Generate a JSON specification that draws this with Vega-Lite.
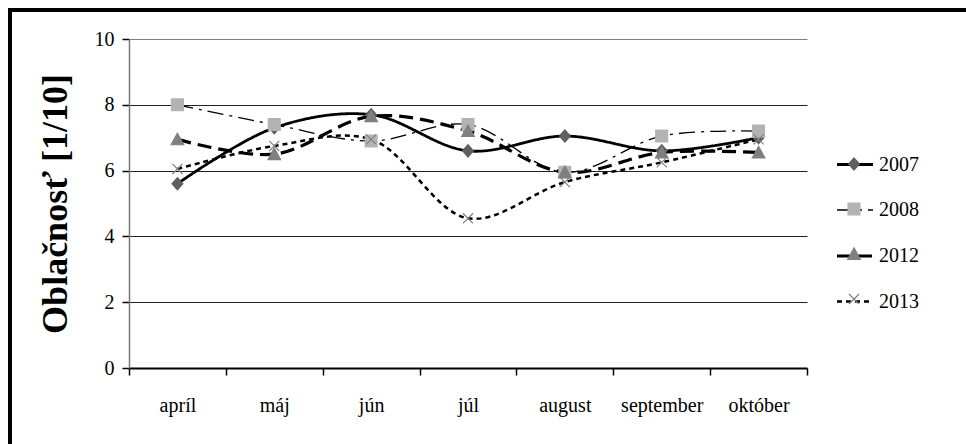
{
  "$schema": "https://vega.github.io/schema/vega-lite/v6.json",
  "width": 970,
  "height": 440,
  "autosize": {"type": "none"},
  "padding": {"left": 10, "top": 10, "right": -14, "bottom": -6},
  "background": "white",
  "config": {
    "view": {"stroke": "black", "strokeWidth": 4, "fill": "white"},
    "legend": {"symbolSize": 1296, "labelFont": "Liberation Serif", "labelFontSize": 20, "labelColor": "black", "rowPadding": 16, "labelOffset": 4, "padding": 0, "offset": 0, "symbolStrokeWidth": 1.2}
  },
  "data": {
    "values": [
      {"month": "apríl", "year": "2007", "value": 5.6},
      {"month": "máj", "year": "2007", "value": 7.3},
      {"month": "jún", "year": "2007", "value": 7.7},
      {"month": "júl", "year": "2007", "value": 6.6},
      {"month": "august", "year": "2007", "value": 7.05},
      {"month": "september", "year": "2007", "value": 6.6},
      {"month": "október", "year": "2007", "value": 7.0},
      {"month": "apríl", "year": "2008", "value": 8.0},
      {"month": "máj", "year": "2008", "value": 7.4},
      {"month": "jún", "year": "2008", "value": 6.9},
      {"month": "júl", "year": "2008", "value": 7.4},
      {"month": "august", "year": "2008", "value": 5.95},
      {"month": "september", "year": "2008", "value": 7.05},
      {"month": "október", "year": "2008", "value": 7.2},
      {"month": "apríl", "year": "2012", "value": 6.95},
      {"month": "máj", "year": "2012", "value": 6.5},
      {"month": "jún", "year": "2012", "value": 7.65},
      {"month": "júl", "year": "2012", "value": 7.2},
      {"month": "august", "year": "2012", "value": 5.95},
      {"month": "september", "year": "2012", "value": 6.55},
      {"month": "október", "year": "2012", "value": 6.55},
      {"month": "apríl", "year": "2013", "value": 6.05},
      {"month": "máj", "year": "2013", "value": 6.75},
      {"month": "jún", "year": "2013", "value": 6.95},
      {"month": "júl", "year": "2013", "value": 4.55},
      {"month": "august", "year": "2013", "value": 5.65},
      {"month": "september", "year": "2013", "value": 6.25},
      {"month": "október", "year": "2013", "value": 6.95}
    ]
  },
  "encoding": {
    "x": {
      "field": "month", "type": "nominal",
      "sort": ["apríl", "máj", "jún", "júl", "august", "september", "október"],
      "scale": {"type": "band", "range": [119, 797], "paddingInner": 0, "paddingOuter": 0},
      "axis": {"orient": "bottom", "offset": -82, "title": null, "labelAngle": 0, "grid": false,
        "domainColor": "black", "domainWidth": 2, "tickColor": "black", "tickWidth": 1.5, "tickSize": 7,
        "tickBand": "extent", "labelFont": "Liberation Serif", "labelFontSize": 20, "labelColor": "black", "labelPadding": 20}
    },
    "y": {
      "field": "value", "type": "quantitative",
      "scale": {"domain": [0, 10], "range": [358, 29], "nice": false, "zero": false},
      "axis": {"orient": "left", "offset": -119, "values": [0, 2, 4, 6, 8, 10],
        "title": "Oblačnosť [1/10]", "titleFont": "Liberation Serif", "titleFontSize": 36, "titleFontWeight": "bold", "titleColor": "black", "titlePadding": 20,
        "labelFont": "Liberation Serif", "labelFontSize": 20, "labelColor": "black", "labelPadding": 8,
        "domainColor": "#7a7a7a", "domainWidth": 1.5, "tickColor": "black", "tickWidth": 1.5, "tickSize": 7,
        "grid": true, "gridColor": {"condition": {"test": "datum.value === 10", "value": "#808080"}, "value": "#202020"}, "gridWidth": 1.2}
    }
  },
  "layer": [
    {
      "mark": {"type": "line", "interpolate": "catmull-rom"},
      "encoding": {
        "color": {"field": "year", "type": "nominal",
          "scale": {"range": ["black", "black", "black", "black"]},
          "legend": {"title": null, "orient": "none", "legendX": 825, "legendY": 135, "symbolType": "stroke"}},
        "strokeDash": {"field": "year", "type": "nominal",
          "scale": {"range": [[1, 0], [16, 6, 3, 6], [14, 7], [5, 4]]}},
        "strokeWidth": {"field": "year", "type": "nominal",
          "scale": {"type": "ordinal", "range": [2.8, 1.3, 3.2, 2.5]}}
      }
    },
    {
      "mark": {"type": "point", "filled": true, "size": 1296, "strokeWidth": 1.2, "opacity": 1},
      "encoding": {
        "fill": {"field": "year", "type": "nominal",
          "scale": {"domain": ["2007", "2008", "2012", "2013"], "range": ["#5f5f5f", "#b3b3b3", "#7f7f7f", "#808080"]},
          "legend": {"title": null, "orient": "none", "legendX": 825, "legendY": 135, "labelExpr": "''"}},
        "stroke": {"field": "year", "type": "nominal",
          "scale": {"domain": ["2007", "2008", "2012", "2013"], "range": ["#5f5f5f", "#b3b3b3", "#7f7f7f", "#808080"]}},
        "shape": {"field": "year", "type": "nominal",
          "scale": {"domain": ["2007", "2008", "2012", "2013"], "range": [
            "M0,-0.34L0.3,0L0,0.34L-0.3,0Z",
            "M-0.33,-0.33L0.33,-0.33L0.33,0.33L-0.33,0.33Z",
            "M0,-0.34L0.35,0.3L-0.35,0.3Z",
            "M-0.28,-0.28L0.28,0.28M-0.28,0.28L0.28,-0.28"
          ]}}
      }
    }
  ]
}
